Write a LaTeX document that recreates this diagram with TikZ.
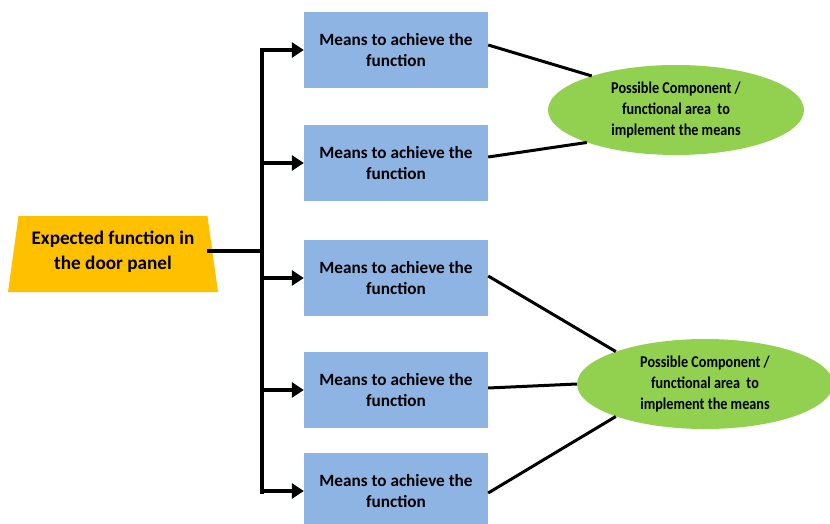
\documentclass[tikz,border=0pt]{standalone}
\usepackage{fontspec}
\setmainfont{Carlito}
\newfontfamily\areafont[FakeStretch=0.86]{Carlito}
\usetikzlibrary{shapes.geometric,arrows.meta}
\definecolor{meansblue}{HTML}{8EB4E3}
\definecolor{areagreen}{HTML}{92D050}
\definecolor{funcgold}{HTML}{FFC000}
\begin{document}
\begin{tikzpicture}[x=1pt,y=-1pt,
  means/.style={rectangle, fill=meansblue, minimum width=184pt, minimum height=76pt,
    align=center, font=\bfseries\fontsize{17.2}{21}\selectfont, inner sep=0pt},
  area/.style={ellipse, fill=areagreen, minimum width=256pt, minimum height=90pt,
    align=center, font=\areafont\bfseries\fontsize{16.5}{21}\selectfont, inner sep=0pt},
  func/.style={trapezium, fill=funcgold, trapezium stretches body, trapezium angle=77,
    minimum width=210pt, minimum height=76pt, align=center,
    font=\bfseries\fontsize{19.2}{25}\selectfont, inner sep=0pt},
  link/.style={line width=3pt, black},
  feed/.style={line width=3.5pt, black, -{Triangle[length=12pt,width=15pt]}}]
\useasboundingbox (0,0) rectangle (830,523);

% expected function
\node[func] (fn) at (113,254) {Expected function in\\the door panel\rule[-7pt]{0pt}{0pt}};

% means boxes
\node[means] (m1) at (396,50)  {Means to achieve the\\function};
\node[means] (m2) at (396,163) {Means to achieve the\\function};
\node[means] (m3) at (396,278) {Means to achieve the\\function};
\node[means] (m4) at (396,390) {Means to achieve the\\function};
\node[means] (m5) at (396,491) {Means to achieve the\\function};

% component areas
\node[area] (a1) at (676,110) {Possible Component /\\functional area\ \ to\\implement the means};
\node[area] (a2) at (705,384) {Possible Component /\\functional area\ \ to\\implement the means};

% distribution spine
\coordinate (jn) at (262,251);
\coordinate (sTop) at (262,48);
\coordinate (sBot) at (262,494);
\draw[line width=4pt] (sTop) -- (sBot);
\draw[line width=4pt] (fn.east |- jn) ++(-6,0) -- (jn);
\foreach \m in {m1,m2,m3,m4,m5}
  \draw[feed] (sTop |- \m.west) -- (\m.west);

% links to component areas
\draw[link] (m1.east |- 0,45)  -- (a1.158);
\draw[link] (m2.east |- 0,157) -- (a1.200);
\draw[link] (m3.east |- 0,276) -- (a2.160);
\draw[link] (m4.east |- 0,388) -- (a2.180);
\draw[link] (m5.east |- 0,493) -- (a2.200);
\end{tikzpicture}
\end{document}
